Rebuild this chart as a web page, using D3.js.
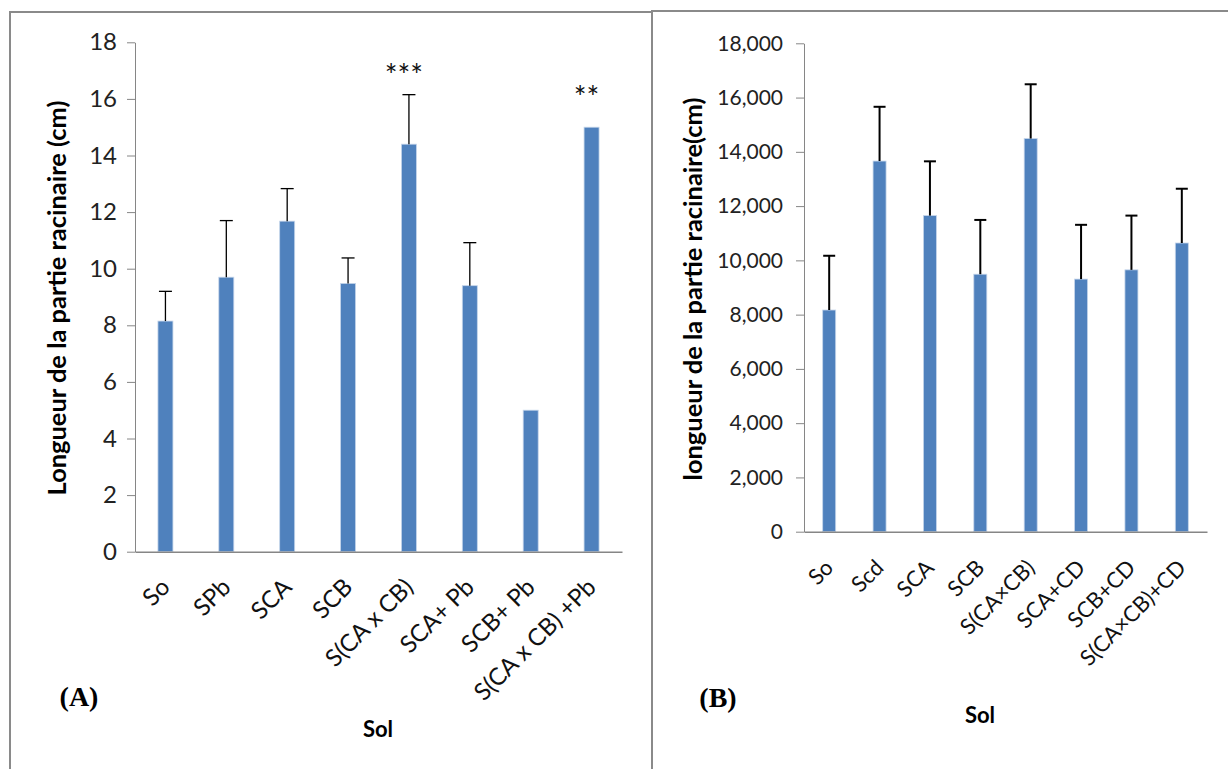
<!DOCTYPE html>
<html><head><meta charset="utf-8">
<script src="https://cdn.jsdelivr.net/npm/d3@7"></script>
<style>body{margin:0;background:#fff}svg{display:block}</style>
</head><body>
<svg id="c" width="1228" height="769"></svg>
<script>
// ---- Data ----
const catsA = ["So","SPb","SCA","SCB","S(CA x CB)","SCA+ Pb","SCB+ Pb","S(CA x CB) +Pb"];
const valsA = [8.15, 9.7, 11.68, 9.48, 14.4, 9.4, 5.0, 15.0];
const errA  = [1.05, 2.0, 1.15, 0.9, 1.75, 1.52, 0, 0];
const starsA = ["", "", "", "", "***", "", "", "**"];
const starLevelA = [0, 0, 0, 0, 16.95, 0, 0, 16.15];
const ticksA = [0, 2, 4, 6, 8, 10, 12, 14, 16, 18];

const catsB = ["So","Scd","SCA","SCB","S(CA×CB)","SCA+CD","SCB+CD","S(CA×CB)+CD"];
const valsB = [8170, 13660, 11650, 9490, 14490, 9310, 9650, 10640];
const errB  = [2000, 2000, 2000, 2000, 2000, 2000, 2000, 2000];
const ticksB = [0, 2000, 4000, 6000, 8000, 10000, 12000, 14000, 16000, 18000];

const titleA = "Longueur de la partie racinaire (cm)";
const titleB = "longueur de la partie racinaire(cm)";

// ---- Drawing ----
const svg = d3.select("#c");
const FONT = "Lato, 'Open Sans', sans-serif";
const BAR = "#4f81bd", AXIS = "#868686", FRAME = "#8a8a8a";

// frames
svg.append("rect").attr("x",10).attr("y",12).attr("width",642).attr("height",800)
  .attr("fill","none").attr("stroke",FRAME).attr("stroke-width",2);
svg.append("rect").attr("x",652).attr("y",11).attr("width",620).attr("height",800)
  .attr("fill","none").attr("stroke",FRAME).attr("stroke-width",2);

function panel(o){
  const g = svg.append("g");
  const x = d3.scaleBand().domain(o.cats).range([o.x0, o.x1]);
  const y = d3.scaleLinear().domain([0, o.max]).range([o.yb, o.yt]);
  const bw = o.barW;

  // y axis
  const ya = g.append("g").attr("transform",`translate(${o.x0},0)`)
    .call(d3.axisLeft(y).tickValues(o.ticks).tickSize(8).tickSizeOuter(0).tickPadding(o.tpad).tickFormat(o.fmt));
  ya.select(".domain").attr("stroke",AXIS);
  ya.selectAll(".tick line").attr("stroke",AXIS);
  ya.selectAll(".tick text").attr("font-family",FONT).attr("font-size",o.tickFs).attr("fill","#222");

  // bars
  g.selectAll("rect.bar").data(o.vals).join("rect").attr("class","bar")
    .attr("x",(d,i)=>x(o.cats[i]) + x.bandwidth()/2 - bw/2)
    .attr("width",bw)
    .attr("y",d=>y(d)).attr("height",d=>o.yb - y(d))
    .attr("fill",BAR).attr("stroke","#c5d5ea").attr("stroke-width",0.8);

  // error bars
  const eg = g.append("g").attr("stroke","#000").attr("stroke-width",o.errW);
  o.vals.forEach((v,i)=>{
    const e = o.errs[i]; if(!e) return;
    const cx = x(o.cats[i]) + x.bandwidth()/2;
    eg.append("line").attr("x1",cx).attr("x2",cx).attr("y1",y(v)).attr("y2",y(v+e));
    eg.append("line").attr("x1",cx-o.cap/2).attr("x2",cx+o.cap/2).attr("y1",y(v+e)).attr("y2",y(v+e));
  });

  // x axis
  const xa = g.append("g").attr("transform",`translate(0,${o.yb})`)
    .call(d3.axisBottom(x).tickSize(0).tickSizeOuter(0).tickFormat(()=>""));
  xa.select(".domain").attr("stroke",AXIS).attr("stroke-width",1.5);

  // x labels rotated
  g.selectAll("text.xl").data(o.cats).join("text").attr("class","xl")
    .attr("transform",d=>`translate(${x(d)+x.bandwidth()/2+o.lx},${o.yb+o.ly}) rotate(-45)`)
    .attr("text-anchor","end").attr("dy","0.35em")
    .attr("font-family",FONT).attr("font-size",o.labFs).attr("fill","#111").text(d=>d);

  // stars
  if(o.stars){
    g.selectAll("text.st").data(o.stars).join("text").attr("class","st")
      .attr("x",(d,i)=>x(o.cats[i])+x.bandwidth()/2 - 5)
      .attr("y",(d,i)=>y(o.starLevel[i]))
      .attr("dy","0.45em").attr("text-anchor","middle")
      .attr("font-family",FONT).attr("font-size",30).attr("fill","#111").text(d=>d);
  }

  // y title (fit to reference length)
  const t = g.append("text").attr("font-family",FONT).attr("font-weight","bold")
    .attr("font-size",18).attr("fill","#000").attr("text-anchor","middle")
    .attr("transform",`translate(${o.tx},${o.ty}) rotate(-90)`).text(o.title);
  const L = t.node().getComputedTextLength();
  t.attr("font-size", 18*o.tlen/L);

  // x title
  g.append("text").attr("x",o.sx).attr("y",o.sy).attr("text-anchor","middle")
    .attr("font-family",FONT).attr("font-weight","bold").attr("font-size",22).text("Sol");
  // panel letter
  g.append("text").attr("x",o.px).attr("y",o.py).attr("text-anchor","middle")
    .attr("font-family","'Liberation Serif', serif").attr("font-weight","bold").attr("font-size",28).text(o.letter);
}

panel({cats:catsA, vals:valsA, errs:errA, max:18, ticks:ticksA, fmt:d3.format("d"),
  x0:135, x1:622, yt:42.3, yb:551.7, barW:15, errW:1.3, cap:13, tickFs:24, labFs:24, tpad:10,
  lx:0, ly:31, stars:starsA, starLevel:starLevelA,
  title:titleA, tx:66, ty:298, tlen:395, sx:378, sy:737, px:79, py:706, letter:"(A)"});

panel({cats:catsB, vals:valsB, errs:errB, max:18000, ticks:ticksB, fmt:d3.format(","),
  x0:804, x1:1207, yt:43.3, yb:531.7, barW:13, errW:2, cap:12, tickFs:21, labFs:22, tpad:13,
  lx:0, ly:32,
  title:titleB, tx:702, ty:289, tlen:383, sx:980, sy:723, px:718, py:707, letter:"(B)"});
</script>
</body></html>
